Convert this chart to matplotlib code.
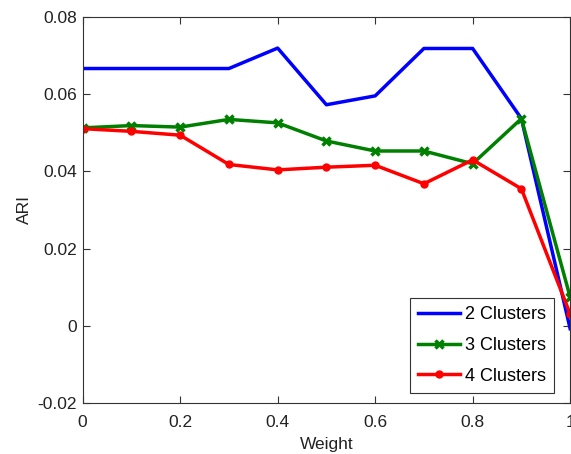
import numpy as np
import matplotlib
matplotlib.use("Agg")
import matplotlib.pyplot as plt

plt.rcParams['font.family'] = ['Liberation Sans', 'DejaVu Sans']

# weights on the x axis
weight = [0.0, 0.1, 0.2, 0.3, 0.4, 0.5, 0.6, 0.7, 0.8, 0.9, 1.0]

# ARI per number of clusters
ari_2 = [0.0667, 0.0667, 0.0667, 0.0667, 0.0720, 0.0573, 0.0596, 0.0719, 0.0719, 0.0537, -0.0008]
ari_3 = [0.0513, 0.0519, 0.0515, 0.0535, 0.0526, 0.0479, 0.0453, 0.0453, 0.0420, 0.0537, 0.0074]
ari_4 = [0.0511, 0.0504, 0.0494, 0.0418, 0.0404, 0.0411, 0.0416, 0.0368, 0.0430, 0.0355, 0.0030]

labels = ['2 Clusters', '3 Clusters', '4 Clusters']


def main():
    fig = plt.figure(figsize=(5.71, 4.54), dpi=100)
    ax = fig.add_axes([0.1448, 0.1130, 0.8537, 0.8490])

    ax.plot(weight, ari_2, color='#0000ff', lw=2.5, label=labels[0])
    ax.plot(weight, ari_3, color='#008000', lw=2.5, marker='x', ms=6, mew=2.5,
            label=labels[1])
    ax.plot(weight, ari_4, color='#ff0000', lw=2.5, marker='o', ms=5,
            label=labels[2])

    ax.set_xlim(0, 1)
    ax.set_ylim(-0.02, 0.08)
    ax.set_xticks([0, 0.2, 0.4, 0.6, 0.8, 1])
    ax.set_xticklabels(['0', '0.2', '0.4', '0.6', '0.8', '1'])
    ax.set_yticks([-0.02, 0, 0.02, 0.04, 0.06, 0.08])
    ax.set_yticklabels(['-0.02', '0', '0.02', '0.04', '0.06', '0.08'])
    ax.tick_params(direction='in', top=True, right=True, length=5,
                   labelsize=12.5, color='#333333', labelcolor='#222222')
    ax.tick_params(axis='x', pad=9)
    ax.tick_params(axis='y', pad=4)
    for s in ax.spines.values():
        s.set_color('#333333')
        s.set_linewidth(0.8)

    ax.set_xlabel('Weight', fontsize=12.5, color='#222222', labelpad=5)
    ax.set_ylabel('ARI', fontsize=12.5, color='#222222', labelpad=4)

    leg = ax.legend(loc='lower right', fontsize=13, fancybox=False,
                    framealpha=1, edgecolor='#333333',
                    bbox_to_anchor=(0.967, 0.026), borderaxespad=0,
                    handlelength=2.3, handletextpad=0.28, labelspacing=0.75,
                    borderpad=0.45)
    leg.get_frame().set_linewidth(0.8)

    fig.savefig('out.png', dpi=100)


if __name__ == "__main__":
    main()
